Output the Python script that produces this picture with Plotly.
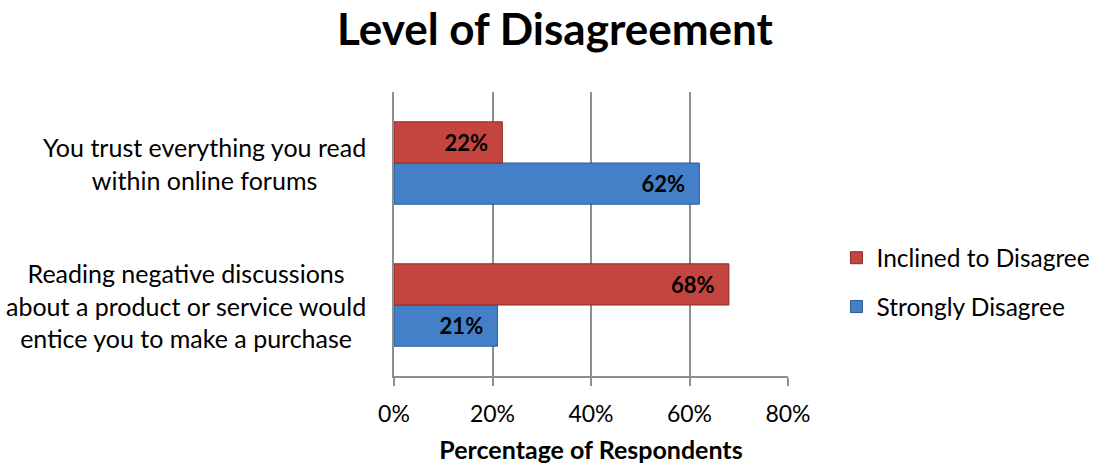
import plotly.graph_objects as go

# Survey statements (bottom to top on the category axis)
statements = [
    "Reading negative discussions<br>about a product or service would<br>entice you to make a purchase",
    "You trust everything you read<br>within online forums",
]
strongly_disagree = [21, 62]
inclined_to_disagree = [68, 22]
x_ticks = [0, 20, 40, 60, 80]
x_tick_labels = ["0%", "20%", "40%", "60%", "80%"]

FONT = "Lato, Calibri, Carlito, sans-serif"
RED = "#C4453F"
RED_EDGE = "#8E2A26"
BLUE = "#4380C8"
BLUE_EDGE = "#2A5A92"

fig = go.Figure()

fig.add_trace(go.Bar(
    name="Strongly Disagree",
    y=statements,
    x=strongly_disagree,
    orientation="h",
    marker=dict(color=BLUE, line=dict(color=BLUE_EDGE, width=1)),
    text=[f"<b>{v}%</b>\u00a0\u00a0" for v in strongly_disagree],
    textposition="inside",
    insidetextanchor="end",
    textfont=dict(family=FONT, size=22, color="black"),
    legendrank=2,
    legendgroup="b",
    hoverinfo="skip",
))
fig.add_trace(go.Bar(
    name="Inclined to Disagree",
    y=statements,
    x=inclined_to_disagree,
    orientation="h",
    marker=dict(color=RED, line=dict(color=RED_EDGE, width=1)),
    text=[f"<b>{v}%</b>\u00a0\u00a0" for v in inclined_to_disagree],
    textposition="inside",
    insidetextanchor="end",
    textfont=dict(family=FONT, size=22, color="black"),
    legendrank=1,
    legendgroup="a",
    hoverinfo="skip",
))

# Category labels, centred line by line to the left of the axis
for s in statements:
    fig.add_annotation(
        x=-0.066, xref="paper", y=s, yref="y",
        text=s, showarrow=False,
        xanchor="right", yanchor="middle", align="center",
        font=dict(family=FONT, size=25, color="black"),
    )

fig.update_layout(
    width=1099, height=464,
    margin=dict(l=394, r=311, t=92, b=88, autoexpand=False),
    paper_bgcolor="white",
    plot_bgcolor="white",
    barmode="group",
    bargap=0.42,
    bargroupgap=0,
    font=dict(family=FONT, size=22, color="black"),
    title=dict(
        text="<b>Level of Disagreement</b>",
        font=dict(family=FONT, size=44, color="black"),
        x=0.505, xanchor="center",
        y=1 - 30 / 464, yanchor="middle", yref="container",
    ),
    legend=dict(
        x=1.123, xanchor="left",
        y=0.33, yanchor="middle",
        font=dict(family=FONT, size=24.5, color="black"),
        tracegroupgap=14,
        bgcolor="rgba(0,0,0,0)",
    ),
    showlegend=True,
)

fig.update_xaxes(
    range=[0, 80],
    tickvals=x_ticks,
    ticktext=x_tick_labels,
    showgrid=True,
    gridcolor="#8E8E8E",
    gridwidth=1.5,
    zeroline=False,
    showline=True,
    linecolor="#8E8E8E",
    linewidth=1.5,
    ticks="outside",
    ticklen=8,
    tickcolor="#8E8E8E",
    tickwidth=1.5,
    ticklabelstandoff=9,
    tickfont=dict(family=FONT, size=23, color="black"),
    automargin=False,
    title=dict(
        text="<b>Percentage of Respondents</b>",
        font=dict(family=FONT, size=25, color="black"),
        standoff=29,
    ),
)
fig.update_yaxes(
    type="category",
    categoryorder="array",
    categoryarray=statements,
    range=[-0.5, 1.5],
    showticklabels=False,
    showgrid=False,
    showline=True,
    linecolor="#8E8E8E",
    linewidth=1.5,
    ticks="",
    automargin=False,
)

fig.write_html("out.html")
